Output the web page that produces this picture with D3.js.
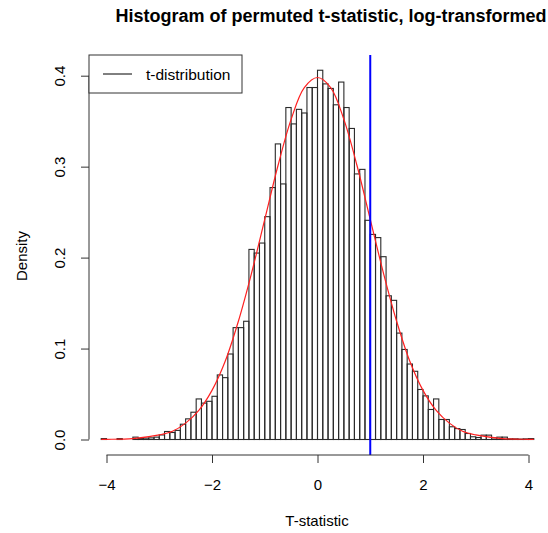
<!DOCTYPE html>
<html>
<head>
<meta charset="utf-8">
<script src="https://cdn.jsdelivr.net/npm/d3@7"></script>
<style>
  body { margin: 0; background: #fff; }
  text { font-family: "Liberation Sans", Arial, Helvetica, sans-serif; fill: #000; }
</style>
</head>
<body>
<div id="chart"></div>
<script>
// histogram breaks (bin width 0.1)
var breaks = [-4.1,-4.0,-3.9,-3.8,-3.7,-3.6,-3.5,-3.4,-3.3,-3.2,-3.1,-3.0,-2.9,-2.8,-2.7,-2.6,-2.5,-2.4,-2.3,-2.2,-2.1,
  -2.0,-1.9,-1.8,-1.7,-1.6,-1.5,-1.4,-1.3,-1.2,-1.1,-1.0,-0.9,-0.8,-0.7,-0.6,-0.5,-0.4,-0.3,-0.2,-0.1,
  0.0,0.1,0.2,0.3,0.4,0.5,0.6,0.7,0.8,0.9,1.0,1.1,1.2,1.3,1.4,1.5,1.6,1.7,1.8,1.9,
  2.0,2.1,2.2,2.3,2.4,2.5,2.6,2.7,2.8,2.9,3.0,3.1,3.2,3.3,3.4,3.5,3.6,3.7,3.8,3.9,4.0,4.1];

// density of each bin
var density = [0.001,0,0,0.001,0,0,0.0026,0.001,0.0015,0.0018,
  0.0026,0.005,0.0088,0.0077,0.010,0.0168,0.0227,0.030,0.0446,0.040,
  0.042,0.0475,0.071,0.068,0.094,0.123,0.123,0.130,0.209,0.205,
  0.216,0.245,0.277,0.325,0.281,0.365,0.347,0.363,0.359,0.387,
  0.387,0.406,0.391,0.386,0.368,0.393,0.365,0.342,0.292,0.297,
  0.241,0.2255,0.222,0.201,0.158,0.153,0.117,0.099,0.083,0.075,
  0.055,0.048,0.033,0.0446,0.022,0.022,0.014,0.012,0.011,0.0066,
  0.003,0.0022,0.0048,0.0048,0.0018,0.0026,0.0026,0.0007,0.0007,0.0004,
  0.0007,0.001];

// t-distribution curve, points
var curveX = [-4.1,-4.0,-3.5,-3.0,-2.75,-2.5,-2.25,-2.0,-1.75,-1.5,-1.25,-1.0,-0.75,-0.5,-0.25,0,
  0.25,0.5,0.75,1.0,1.25,1.5,1.75,2.0,2.25,2.5,2.75,3.0,3.5,4.0,4.1];
var curveY = [0.0001,0.0002,0.001,0.005,0.009,0.018,0.032,0.054,0.086,0.130,0.183,0.242,0.301,0.352,0.387,0.398,
  0.387,0.352,0.301,0.242,0.183,0.130,0.086,0.054,0.032,0.018,0.009,0.005,0.001,0.0002,0.0001];

var observed = 1.0;
var xTicks = [-4, -2, 0, 2, 4];
var yTicks = [0, 0.1, 0.2, 0.3, 0.4];

var W = 548, H = 533;
var svg = d3.select("#chart").append("svg")
  .attr("width", W).attr("height", H)
  .attr("xmlns", "http://www.w3.org/2000/svg");
svg.append("rect").attr("width", W).attr("height", H).attr("fill", "#fff");

var plotTop = 55, plotBottom = 455, plotLeft = 89;
var x = d3.scaleLinear().domain([-4, 4]).range([106.5, 528.5]);
var y = d3.scaleLinear().domain([0, 0.4]).range([439.5, 75.7]);

var bins = density.map(function (d, i) { return { x0: breaks[i], x1: breaks[i + 1], d: d }; });

svg.append("g").selectAll("rect").data(bins).enter().append("rect")
  .attr("x", function (d) { return x(d.x0); })
  .attr("y", function (d) { return y(d.d); })
  .attr("width", function (d) { return x(d.x1) - x(d.x0); })
  .attr("height", function (d) { return y(0) - y(d.d); })
  .attr("fill", "none")
  .attr("stroke", "#2a2a2a")
  .attr("stroke-width", 1.1);

// red t-density curve
var line = d3.line()
  .x(function (d) { return x(d[0]); })
  .y(function (d) { return y(d[1]); })
  .curve(d3.curveCatmullRom);
svg.append("path")
  .datum(curveX.map(function (v, i) { return [v, curveY[i]]; }))
  .attr("d", line)
  .attr("fill", "none")
  .attr("stroke", "#ff2020")
  .attr("stroke-width", 1.2);

// observed statistic
svg.append("line")
  .attr("x1", x(observed)).attr("x2", x(observed))
  .attr("y1", plotTop).attr("y2", plotBottom)
  .attr("stroke", "#0000ff").attr("stroke-width", 2);

// x axis
var xAxis = d3.axisBottom(x).tickValues(xTicks).tickSize(8).tickSizeOuter(0).tickPadding(16)
  .tickFormat(d3.format("d"));
var gx = svg.append("g").attr("transform", "translate(0," + plotBottom + ")").call(xAxis);
gx.select(".domain").attr("d", "M" + x(-4) + ",0H" + x(4)).attr("stroke", "#333");
gx.selectAll(".tick line").attr("stroke", "#333");
gx.selectAll("text").style("font-size", "15px").attr("fill", "#000");

// y axis
var yAxis = d3.axisLeft(y).tickValues(yTicks).tickSize(8).tickSizeOuter(0)
  .tickFormat(d3.format(".1f"));
var gy = svg.append("g").attr("transform", "translate(" + plotLeft + ",0)").call(yAxis);
gy.select(".domain").attr("d", "M0," + y(0) + "V" + y(0.4)).attr("stroke", "#333");
gy.selectAll(".tick line").attr("stroke", "#333");
gy.selectAll(".tick text")
  .attr("x", null).attr("dy", null)
  .attr("text-anchor", "middle")
  .attr("transform", "translate(-24,0) rotate(-90)")
  .style("font-size", "15px").attr("fill", "#000");

// legend
var lg = svg.append("g");
lg.append("rect").attr("x", plotLeft).attr("y", plotTop).attr("width", 153).attr("height", 38)
  .attr("fill", "#fff").attr("stroke", "#333");
lg.append("line").attr("x1", 103).attr("x2", 132).attr("y1", 74).attr("y2", 74)
  .attr("stroke", "#000").attr("stroke-width", 1);
lg.append("text").attr("x", 146).attr("y", 79.5).style("font-size", "15.5px").text("t-distribution");

// titles
svg.append("text").attr("x", 331).attr("y", 22).attr("text-anchor", "middle")
  .style("font-size", "18px").style("font-weight", "bold")
  .text("Histogram of permuted t-statistic, log-transformed");
svg.append("text").attr("x", 317).attr("y", 526).attr("text-anchor", "middle")
  .style("font-size", "15px").text("T-statistic");
svg.append("text").attr("transform", "translate(27,256) rotate(-90)").attr("text-anchor", "middle")
  .style("font-size", "15px").text("Density");
</script>
</body>
</html>
